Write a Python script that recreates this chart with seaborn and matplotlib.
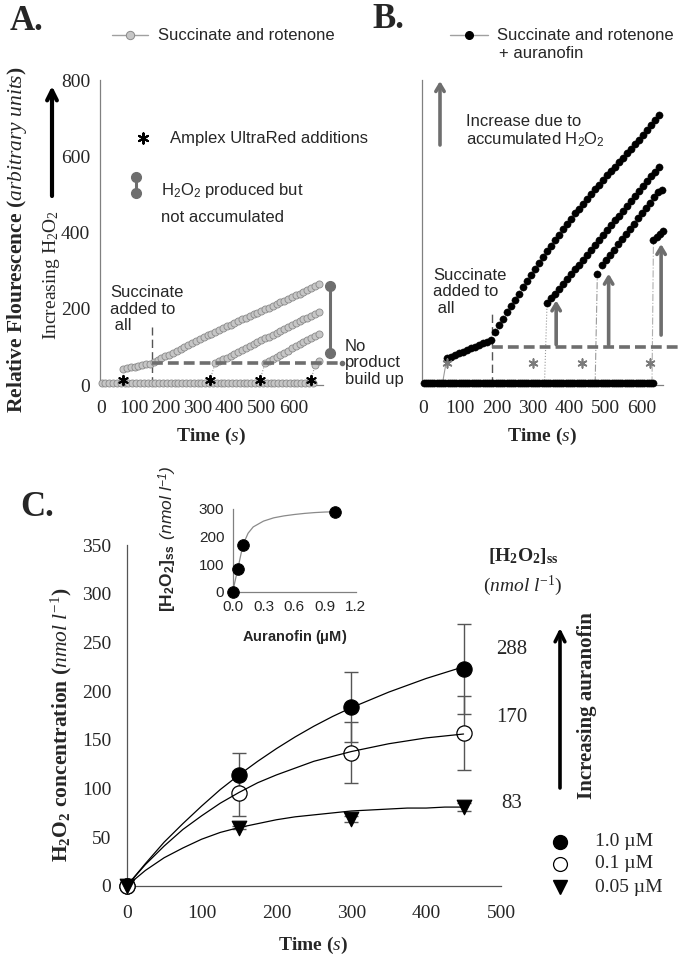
import numpy as np
import matplotlib
matplotlib.use("Agg")
import matplotlib.pyplot as plt
import seaborn as sns

# ---------------- data ----------------
# Panel A: succinate and rotenone (fluorescence, arbitrary units)
a_base_t = list(range(0, 661, 12))
a_base_y = [6] * len(a_base_t)
a_tr1_t = list(range(67, 680, 12))
a_tr1_y = [41, 44, 46, 48, 50, 52, 54, 56,
           60, 65, 70, 75, 80, 85, 90, 95, 100, 105,
           110, 115, 120, 125, 130, 135, 140, 145, 149, 154,
           158, 163, 167, 172, 176, 181, 185, 190, 194, 199,
           203, 208, 212, 217, 221, 226, 231, 235, 240, 245,
           250, 255, 260, 266]
a_tr2_t = list(range(355, 680, 12))
a_tr2_y = [57, 62, 67, 72, 77, 82, 87, 92, 97, 102, 107, 112, 117, 122,
           127, 132, 137, 142, 147, 152, 157, 162, 167, 172, 177, 182, 187, 192]
a_tr3_t = list(range(511, 680, 12))
a_tr3_y = [57, 63, 68, 74, 79, 85, 90, 96, 101, 107, 113, 118, 124, 129, 135]
a_tr4_t = [667, 679]
a_tr4_y = [52, 62]
a_star_t = [68, 339, 495, 655]

# Panel B: succinate and rotenone + auranofin
b_base_t = list(range(0, 636, 6))
b_base_y = [4] * len(b_base_t)
b_tr1_t = [64, 75, 86, 97, 108, 119, 130, 141, 152, 163, 174, 185] + list(range(196, 648, 11))
b_tr1_y = [70, 74, 79, 83, 87, 92, 96, 100, 105, 109, 113, 118,
           140, 157, 174, 191, 207, 223, 239, 256, 272, 288,
           304, 320, 336, 351, 365, 380, 394, 408, 422, 436,
           450, 462, 475, 488, 500, 513, 525, 538, 550, 562,
           573, 585, 596, 608, 619, 631, 642, 655, 668, 681,
           694, 708]
b_tr2_t = list(range(339, 648, 11))
b_tr2_y = [214, 227, 240, 252, 265, 278, 291, 304, 316, 329,
           342, 355, 368, 380, 393, 406, 419, 432, 444, 457,
           470, 483, 496, 508, 521, 534, 547, 560, 572]
b_tr3_t = [477] + list(range(489, 655, 11))
b_tr3_y = [291, 314, 328, 341, 355, 369, 382, 396, 410, 423, 437,
           451, 464, 478, 492, 505, 512]
b_tr4_t = [631, 640, 649, 657]
b_tr4_y = [380, 389, 397, 404]
b_star_t = [64, 300, 436, 622]

# Panel C: H2O2 concentration vs time
c_t = [0, 150, 300, 450]
c_10 = [0, 114, 184, 223]
c_10_err = [0, 22, 36, 46]
c_01 = [0, 95, 137, 157]
c_01_err = [0, 23, 31, 38]
c_005 = [0, 60, 69, 81]
c_005_err = [0, 2, 3, 4]
fit_t = list(range(0, 451, 25))
fit_10 = [0, 23, 45, 64, 82, 99, 114, 128, 141, 153, 164, 174, 183, 191, 199, 206, 213, 219, 225]
fit_01 = [0, 22, 41, 58, 72, 85, 96, 106, 114, 121, 128, 133, 138, 142, 146, 149, 152, 154, 156]
fit_005 = [0, 16, 29, 39, 48, 55, 60, 64, 68, 71, 73, 75, 77, 78, 79, 80, 80, 81, 81]

# inset: steady state H2O2 vs auranofin
ss_conc = [0, 0.05, 0.1, 1.0]
ss_val = [0, 83, 170, 288]
ins_x = [0, 0.05, 0.1, 0.15, 0.2, 0.3, 0.4, 0.5, 0.6, 0.7, 0.8, 0.9, 1.0]
ins_y = [0, 83, 170, 212, 235, 256, 268, 275, 280, 284, 287, 289, 290]

# ---------------- style ----------------
sns.set_style("white")
plt.rcParams["font.family"] = ["Liberation Serif", "DejaVu Serif"]
plt.rcParams["mathtext.fontset"] = "custom"
plt.rcParams["mathtext.rm"] = "Liberation Serif"
plt.rcParams["mathtext.it"] = "Liberation Serif:italic"
plt.rcParams["mathtext.bf"] = "Liberation Serif:bold"
SANS = ["Liberation Sans", "DejaVu Sans"]
H2O2 = r"H$_{\mathregular{2}}$O$_{\mathregular{2}}$"

light = "#c6c6c6"
edge = "#8a8a8a"
dgrey = "#6e6e6e"
spine_grey = "#808080"

W, H = 683, 959
fig = plt.figure(figsize=(6.83, 9.59), dpi=100)


def px_axes(l, t, r, b):
    return fig.add_axes([l / W, 1 - b / H, (r - l) / W, (b - t) / H])


ax_a = px_axes(100, 80, 323, 385)
ax_b = px_axes(421.7, 80, 663.3, 385)
ax_c = px_axes(126.7, 545, 501, 886)
ax_in = px_axes(232.7, 509, 355.7, 591.7)

for ax in (ax_a, ax_b, ax_c, ax_in):
    sns.despine(ax=ax)
    for sp in ("left", "bottom"):
        ax.spines[sp].set_color(spine_grey)
        ax.spines[sp].set_linewidth(0.9)

# ---------------- panel A ----------------
for t, y in [(a_base_t, a_base_y), (a_tr1_t, a_tr1_y), (a_tr2_t, a_tr2_y),
             (a_tr3_t, a_tr3_y), (a_tr4_t, a_tr4_y)]:
    sns.scatterplot(x=t, y=y, ax=ax_a, s=26, color=light, edgecolor=edge,
                    linewidth=0.6, clip_on=False, zorder=3, legend=False)
sns.scatterplot(x=a_star_t, y=[14] * len(a_star_t), ax=ax_a, marker=(6, 2, 0),
                s=45, color="black", linewidth=1.4, zorder=6, legend=False)
# connectors from additions to new traces
for s0, t0, y0 in zip(a_star_t[1:], [a_tr2_t[0], a_tr3_t[0], a_tr4_t[0]],
                      [a_tr2_y[0], a_tr3_y[0], a_tr4_y[0]]):
    ax_a.plot([s0, t0], [14, y0], color="#9a9a9a", lw=0.8, ls=":", zorder=2)
ax_a.plot([159, 159], [0, 153], color="#555555", lw=1, ls=(0, (6, 3)), zorder=2)
ax_a.plot([157, 745], [58, 58], color=dgrey, lw=2.6, ls=(0, (3, 1.4)),
          clip_on=False, zorder=5)
ax_a.plot([752], [58], "o", ms=3, color=dgrey, clip_on=False)
ax_a.plot([714, 714], [83, 259], color=dgrey, lw=2.2, marker="o", ms=7,
          clip_on=False, zorder=5)

ax_a.set_xlim(-5, 692)
ax_a.set_ylim(0, 800)
ax_a.set_xticks(range(0, 601, 100))
ax_a.set_yticks(range(0, 801, 200))
ax_a.tick_params(axis="x", direction="out", length=3, color=spine_grey,
                 labelsize=14, pad=8)
ax_a.tick_params(axis="y", direction="out", length=3, color=spine_grey,
                 labelsize=14, pad=4)
ax_a.set_xlabel(r"Time ($\mathit{s}$)", fontsize=14, fontweight="bold")
ax_a.xaxis.label.set_va("center")
ax_a.xaxis.set_label_coords(0.5, -0.17)
ax_a.set_ylabel(r"Relative Flourescence ($\mathit{arbitrary\ units}$)",
                fontsize=15.5, fontweight="bold")
ax_a.yaxis.label.set_va("center")
ax_a.yaxis.set_label_coords(-0.37, 0.475)

# ---------------- panel B ----------------
for t, y in [(b_base_t, b_base_y), (b_tr1_t, b_tr1_y), (b_tr2_t, b_tr2_y),
             (b_tr3_t, b_tr3_y), (b_tr4_t, b_tr4_y)]:
    sns.scatterplot(x=t, y=y, ax=ax_b, s=27, color="black", edgecolor="black",
                    linewidth=0.3, clip_on=False, zorder=3, legend=False)
sns.scatterplot(x=b_star_t, y=[57] * len(b_star_t), ax=ax_b, marker=(6, 2, 0),
                s=40, color="#7a7a7a", linewidth=1.2, zorder=6, legend=False)
ax_b.plot([52, b_tr1_t[0]], [4, b_tr1_y[0]], color="#9a9a9a", lw=0.8, zorder=2)
ax_b.plot([332, b_tr2_t[0]], [4, b_tr2_y[0]], color="#9a9a9a", lw=0.8, ls=":", zorder=2)
ax_b.plot([471, b_tr3_t[0]], [4, b_tr3_y[0]], color="#9a9a9a", lw=0.8, ls="-.", zorder=2)
ax_b.plot([627, b_tr4_t[0]], [4, b_tr4_y[0]], color="#b0b0b0", lw=0.8, ls="-.", zorder=2)
ax_b.plot([187, 187], [0, 196], color="#555555", lw=1, ls=(0, (6, 3)), zorder=2)
ax_b.plot([187, 705], [100, 100], color=dgrey, lw=2.6, ls=(0, (3, 1.4)),
          clip_on=False, zorder=5)
for xa, y0, y1 in [(364, 106, 222), (508, 106, 292), (652, 131, 370)]:
    ax_b.annotate("", xy=(xa, y1), xytext=(xa, y0), annotation_clip=False,
                  arrowprops=dict(arrowstyle="->,head_length=0.5,head_width=0.3",
                                  lw=2.6, color=dgrey, shrinkA=0, shrinkB=0))
ax_b.set_xlim(-5, 658)
ax_b.set_ylim(0, 800)
ax_b.set_xticks(range(0, 601, 100))
ax_b.set_yticks(range(0, 801, 200))
ax_b.set_yticklabels([])
ax_b.tick_params(axis="x", direction="out", length=3, color=spine_grey,
                 labelsize=14, pad=8)
ax_b.tick_params(axis="y", direction="out", length=4, color=spine_grey)
ax_b.set_xlabel(r"Time ($\mathit{s}$)", fontsize=14, fontweight="bold")
ax_b.xaxis.label.set_va("center")
ax_b.xaxis.set_label_coords(0.5, -0.17)

# ---------------- panel C ----------------
for y, e in [(c_10, c_10_err), (c_01, c_01_err), (c_005, c_005_err)]:
    ax_c.errorbar(c_t, y, yerr=e, fmt="none", ecolor="#555555", elinewidth=1,
                  capsize=5, capthick=1, zorder=2)
sns.scatterplot(x=c_t, y=c_10, ax=ax_c, s=120, color="black", edgecolor="black",
                clip_on=False, zorder=3, legend=False)
sns.scatterplot(x=c_t, y=c_01, ax=ax_c, s=120, color="white", edgecolor="black",
                linewidth=0.9, clip_on=False, zorder=3, legend=False)
sns.scatterplot(x=c_t, y=c_005, ax=ax_c, s=110, marker="v", color="black",
                edgecolor="black", clip_on=False, zorder=3, legend=False)
for f in (fit_10, fit_01, fit_005):
    sns.lineplot(x=fit_t, y=f, ax=ax_c, color="black", lw=0.9, zorder=4)
ax_c.set_xlim(0, 500)
ax_c.set_ylim(0, 350)
ax_c.set_xticks(range(0, 501, 100))
ax_c.set_yticks(range(0, 351, 50))
ax_c.tick_params(axis="x", direction="out", length=4, color="#555555",
                 labelsize=14, pad=10)
ax_c.tick_params(axis="y", direction="out", length=4, color="#555555",
                 labelsize=14, pad=7)
for sp in ("left", "bottom"):
    ax_c.spines[sp].set_color("#555555")
ax_c.set_xlabel(r"Time ($\mathit{s}$)", fontsize=14, fontweight="bold")
ax_c.xaxis.label.set_va("center")
ax_c.xaxis.set_label_coords(0.498, -0.173)
ax_c.set_ylabel(H2O2 + r" concentration ($\mathit{nmol\ l}^{\mathit{-1}}$)",
                fontsize=15.5, fontweight="bold")
ax_c.yaxis.label.set_va("center")
ax_c.yaxis.set_label_coords(-0.175, 0.472)

# inset
sns.lineplot(x=ins_x, y=ins_y, ax=ax_in, color="#8a8a8a", lw=0.9, zorder=2)
sns.scatterplot(x=ss_conc, y=ss_val, ax=ax_in, s=70, color="black",
                edgecolor="black", clip_on=False, zorder=3, legend=False)
ax_in.set_xlim(0, 1.2)
ax_in.set_ylim(0, 300)
ax_in.set_xticks([0, 0.3, 0.6, 0.9, 1.2])
ax_in.set_xticklabels(["0.0", "0.3", "0.6", "0.9", "1.2"], fontfamily=SANS)
ax_in.set_yticks([0, 100, 200, 300])
ax_in.set_yticklabels(["0", "100", "200", "300"], fontfamily=SANS)
ax_in.tick_params(direction="out", length=3, color=spine_grey, labelsize=11, pad=3)
ax_in.set_xlabel(r"Auranofin ($\mathregular{\mu}$M)", fontsize=10.5,
                 fontweight="bold", fontfamily=SANS)
ax_in.xaxis.label.set_va("center")
ax_in.xaxis.set_label_coords(0.5, -0.55)
lab1 = ax_in.text(-0.53, -0.24, "[" + H2O2 + "]$_{\\mathregular{ss}}$",
                  transform=ax_in.transAxes, rotation=90, ha="center", va="bottom",
                  fontsize=12.5, fontweight="bold", fontfamily=SANS)
ax_in.annotate(r" (nmol l$^{\mathregular{-1}}$)", xy=(0.5, 1), xycoords=lab1,
               rotation=90, ha="center", va="bottom", fontsize=12.5,
               fontstyle="italic", fontfamily=SANS)

# ---------------- overlay for panel letters and notes ----------------
ov = fig.add_axes([0, 0, 1, 1])
ov.set_xlim(0, W)
ov.set_ylim(H, 0)
ov.axis("off")

ov.text(10, 30, "A.", fontsize=25, fontweight="bold", va="baseline")
ov.text(372, 28, "B.", fontsize=25, fontweight="bold", va="baseline")
ov.text(20, 516, "C.", fontsize=25, fontweight="bold", va="baseline")

# legends A and B
ov.plot([112, 148], [35, 35], color="#a0a0a0", lw=1)
ov.plot([130], [35], "o", ms=6, mfc=light, mec=edge, mew=0.7)
ov.text(158, 35, "Succinate and rotenone", fontsize=12, family=SANS, va="center")
ov.plot([450, 488], [35, 35], color="#a0a0a0", lw=1)
ov.plot([469], [35], "o", ms=5.5, color="black")
ov.text(497, 35, "Succinate and rotenone", fontsize=12, family=SANS, va="center")
ov.text(499, 53, "+ auranofin", fontsize=12, family=SANS, va="center")

# notes panel A
ov.scatter([143], [138], marker=(6, 2, 0), s=55, color="black", linewidth=1.5)
ov.text(170, 138, "Amplex UltraRed additions", fontsize=12, family=SANS, va="center")
ov.plot([136, 136], [177, 193], color=dgrey, lw=2.2, marker="o", ms=7)
ov.text(161, 191, H2O2 + " produced but", fontsize=12, family=SANS, va="center")
ov.text(161, 217, "not accumulated", fontsize=12, family=SANS, va="center")
ov.annotate("", xy=(52, 86), xytext=(52, 196),
            arrowprops=dict(arrowstyle="->,head_length=0.7,head_width=0.35",
                            lw=3, color="black", shrinkA=0, shrinkB=0))
ov.text(51, 275, "Increasing " + H2O2, rotation=90, fontsize=14,
        ha="center", va="center")
ov.text(110, 309, "Succinate\nadded to\n all", fontsize=12, family=SANS,
        va="center", linespacing=1.1)
ov.text(345, 363, "No\nproduct\nbuild up", fontsize=12, family=SANS,
        va="center", linespacing=1.1)

# notes panel B
ov.annotate("", xy=(440, 81), xytext=(440, 145),
            arrowprops=dict(arrowstyle="->,head_length=0.5,head_width=0.3",
                            lw=2.6, color=dgrey, shrinkA=0, shrinkB=0))
ov.text(466, 122, "Increase due to", fontsize=12, family=SANS, va="center")
ov.text(466, 140, "accumulated " + H2O2, fontsize=12, family=SANS, va="center")
ov.text(433, 292, "Succinate\nadded to\n all", fontsize=12, family=SANS,
        va="center", linespacing=1.1)

# notes panel C
ov.text(523, 556, "[" + H2O2 + "]$_{\\mathregular{ss}}$", fontsize=14,
        fontweight="bold", ha="center", va="center")
ov.text(523, 586, r"($\mathit{nmol\ l}^{\mathit{-1}}$)", fontsize=14,
        ha="center", va="center")
for val, yy in zip(ss_val[:0:-1], [650, 718, 803]):
    ov.text(512, yy, f"{val}", fontsize=15, ha="center", va="center")
ov.annotate("", xy=(560, 628), xytext=(560, 788),
            arrowprops=dict(arrowstyle="->,head_length=0.7,head_width=0.35",
                            lw=2.6, color="black", shrinkA=0, shrinkB=0))
ov.text(587, 706, "Increasing auranofin", rotation=90, fontsize=15,
        fontweight="bold", ha="center", va="center")
ov.plot([560], [842], "o", ms=10, color="black")
ov.plot([560], [864], "o", ms=10, mfc="white", mec="black", mew=0.9)
ov.plot([560], [887], "v", ms=10, color="black")
for lab, yy in zip(["1.0 µM", "0.1 µM", "0.05 µM"], [842, 864, 887]):
    ov.text(595, yy, lab, fontsize=14, va="center")

fig.savefig("out.png", dpi=100)
